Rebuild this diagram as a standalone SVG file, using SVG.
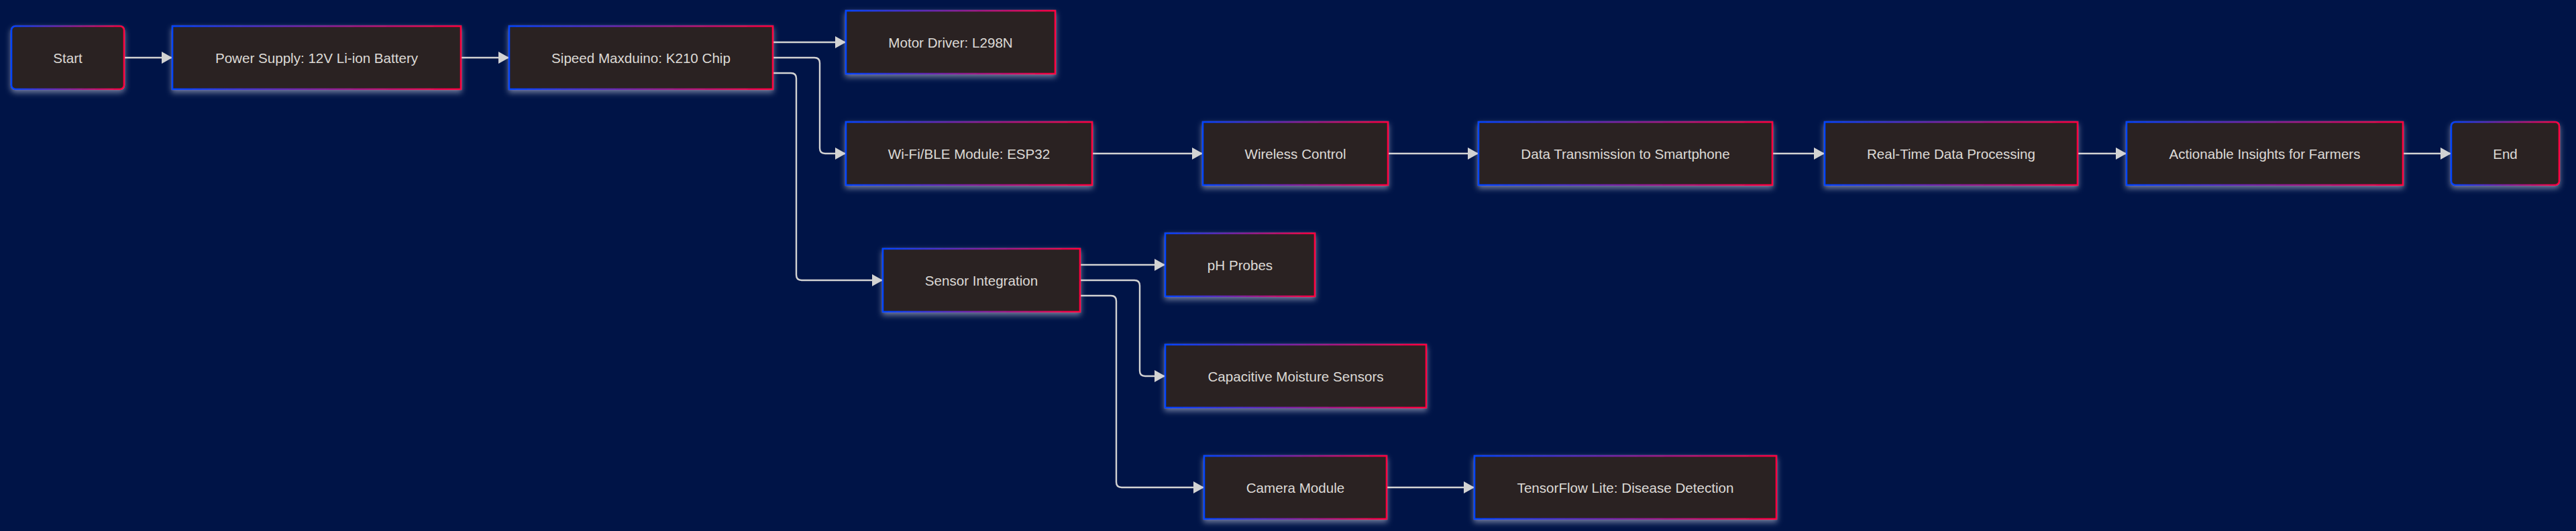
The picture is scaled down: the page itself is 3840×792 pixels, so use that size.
<svg xmlns="http://www.w3.org/2000/svg" width="3840" height="792" viewBox="0 0 3840 792">
<defs>
<linearGradient id="bd" x1="0" y1="0" x2="1" y2="0">
<stop offset="0" stop-color="#0044ff"/>
<stop offset="1" stop-color="#ff0040"/>
</linearGradient>
<filter id="glow" x="-10%" y="-20%" width="120%" height="150%">
<feGaussianBlur in="SourceAlpha" stdDeviation="4" result="b"/>
<feOffset in="b" dy="4" result="o"/>
<feFlood flood-color="#c8cce0" flood-opacity="0.55"/>
<feComposite in2="o" operator="in" result="s"/>
<feMerge><feMergeNode in="s"/><feMergeNode in="SourceGraphic"/></feMerge>
</filter>
<marker id="arr" markerUnits="userSpaceOnUse" markerWidth="17" markerHeight="19" refX="16" refY="9" orient="auto">
<path d="M0,0 L16,9 L0,18 z" fill="#d3d3d3"/>
</marker>
<style>
.n rect{fill:#2c2220;stroke:url(#bd);stroke-width:2.6;filter:url(#glow)}
.n text{font-family:"Liberation Sans",Arial,sans-serif;font-size:20.6px;fill:#dddad6;text-anchor:middle;dominant-baseline:central}
.e path{fill:none;stroke:#d3d3d3;stroke-width:2.4;marker-end:url(#arr)}
</style>
</defs>
<rect width="3840" height="792" fill="#001447"/>
<g id="edges" class="e">
<path d="M185,86 H257"/>
<path d="M687,86 H759"/>
<path d="M1152,63 H1261"/>
<path d="M1152,86 H1214 Q1222,86 1222,94 V221 Q1222,229 1230,229 H1261"/>
<path d="M1152,109 H1179 Q1187,109 1187,117 V410 Q1187,418 1195,418 H1316"/>
<path d="M1628,229 H1793"/>
<path d="M2069,229 H2204"/>
<path d="M2642,229 H2720"/>
<path d="M3097,229 H3170"/>
<path d="M3582,229 H3654"/>
<path d="M1610,395 H1737"/>
<path d="M1610,418 H1691 Q1699,418 1699,426 V553 Q1699,561 1707,561 H1737"/>
<path d="M1610,441 H1656 Q1664,441 1664,449 V719 Q1664,727 1672,727 H1795"/>
<path d="M2067,727 H2198"/>
</g>
<g id="start" class="n"><rect x="17" y="39" width="168" height="94" rx="6"/><text x="101" y="86">Start</text></g>
<g id="power" class="n"><rect x="257" y="39" width="430" height="94"/><text x="472" y="86">Power Supply: 12V Li-ion Battery</text></g>
<g id="sipeed" class="n"><rect x="759" y="39" width="393" height="94"/><text x="955.5" y="86">Sipeed Maxduino: K210 Chip</text></g>
<g id="motor" class="n"><rect x="1261" y="16" width="312" height="94"/><text x="1417" y="63">Motor Driver: L298N</text></g>
<g id="wifi" class="n"><rect x="1261" y="182" width="367" height="94"/><text x="1444.5" y="229">Wi-Fi/BLE Module: ESP32</text></g>
<g id="wireless" class="n"><rect x="1793" y="182" width="276" height="94"/><text x="1931" y="229">Wireless Control</text></g>
<g id="datatx" class="n"><rect x="2204" y="182" width="438" height="94"/><text x="2423" y="229">Data Transmission to Smartphone</text></g>
<g id="realtime" class="n"><rect x="2720" y="182" width="377" height="94"/><text x="2908.5" y="229">Real-Time Data Processing</text></g>
<g id="insights" class="n"><rect x="3170" y="182" width="412" height="94"/><text x="3376" y="229">Actionable Insights for Farmers</text></g>
<g id="end" class="n"><rect x="3654" y="182" width="161" height="94" rx="6"/><text x="3734.5" y="229">End</text></g>
<g id="sensor" class="n"><rect x="1316" y="371" width="294" height="94"/><text x="1463" y="418">Sensor Integration</text></g>
<g id="ph" class="n"><rect x="1737" y="348" width="223" height="94"/><text x="1848.5" y="395">pH Probes</text></g>
<g id="moisture" class="n"><rect x="1737" y="514" width="389" height="94"/><text x="1931.5" y="561">Capacitive Moisture Sensors</text></g>
<g id="camera" class="n"><rect x="1795" y="680" width="272" height="94"/><text x="1931" y="727">Camera Module</text></g>
<g id="tflite" class="n"><rect x="2198" y="680" width="450" height="94"/><text x="2423" y="727">TensorFlow Lite: Disease Detection</text></g>
</svg>
